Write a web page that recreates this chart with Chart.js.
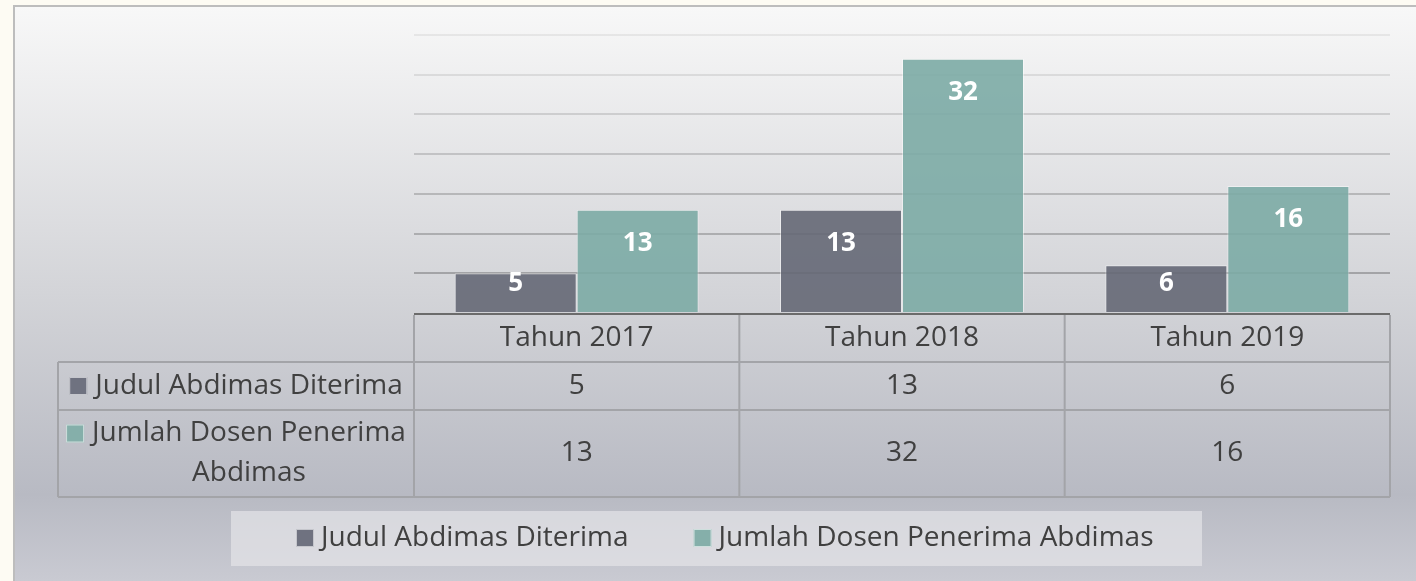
<!DOCTYPE html>
<html lang="id">
<head>
<meta charset="UTF-8">
<title>Abdimas</title>
<script src="https://cdn.jsdelivr.net/npm/chart.js"></script>
<style>
  html, body { margin: 0; padding: 0; background: #fdfbf3; }
  #wrap { width: 1416px; height: 581px; }
</style>
</head>
<body>
<div id="wrap"><canvas id="myChart" width="1416" height="581"></canvas></div>
<script>
// data
const kategori = ['Tahun 2017', 'Tahun 2018', 'Tahun 2019'];
const seriNama = ['Judul Abdimas Diterima', 'Jumlah Dosen Penerima Abdimas'];
const judulDiterima = [5, 13, 6];
const dosenPenerima = [13, 32, 16];
const warna = ['rgba(101,104,117,0.9)', 'rgba(124,171,165,0.9)'];
const warnaKotak = ['#6f7280', '#85afaa'];

const FONT = '"Open Sans", "DejaVu Sans", sans-serif';
const TEKS = '#404040';

// latar belakang + bingkai
const latar = {
  id: 'latar',
  beforeDraw(chart) {
    const c = chart.ctx, W = chart.width, H = chart.height;
    c.save();
    c.fillStyle = '#fdfbf3';
    c.fillRect(0, 0, W, H);
    const g = c.createLinearGradient(0, 5, 0, H);
    g.addColorStop(0, '#f8f8f8');
    g.addColorStop(0.5, '#d3d4d8');
    g.addColorStop(0.85, '#b8bac3');
    g.addColorStop(1, '#c9cad2');
    c.fillStyle = g;
    c.fillRect(13, 5, W - 13, H - 5);
    c.strokeStyle = '#bdbdbd';
    c.lineWidth = 2;
    c.beginPath();
    c.moveTo(14, H); c.lineTo(14, 6); c.lineTo(W, 6);
    c.stroke();
    c.restore();
  }
};

function kotak(c, x, y, s, col) {
  c.fillStyle = col;
  c.fillRect(x, y, s, s);
  c.strokeStyle = 'rgba(255,255,255,0.6)';
  c.lineWidth = 1;
  c.strokeRect(x + 0.5, y + 0.5, s - 1, s - 1);
}

// label angka di dalam batang, tabel data, legenda
const tabel = {
  id: 'tabel',
  afterDatasetsDraw(chart) {
    const c = chart.ctx;
    const xs = chart.scales.x;
    const area = chart.chartArea;
    c.save();

    // label angka (posisi ujung dalam, batang pendek ditahan dari dasar)
    c.fillStyle = '#ffffff';
    c.font = 'bold 26px ' + FONT;
    c.textAlign = 'center';
    c.textBaseline = 'middle';
    chart.data.datasets.forEach((ds, di) => {
      chart.getDatasetMeta(di).data.forEach((bar, i) => {
        const y = Math.min(bar.y + 34, bar.base - 28);
        c.fillText(String(ds.data[i]), bar.x, y);
      });
    });

    // garis sumbu
    c.strokeStyle = '#6b6b6b';
    c.lineWidth = 2;
    c.beginPath();
    c.moveTo(area.left, area.bottom + 1);
    c.lineTo(area.right, area.bottom + 1);
    c.stroke();

    // tabel data
    const lebar = (xs.getPixelForValue(1) - xs.getPixelForValue(0));
    const kiri = 58;
    const y0 = area.bottom + 2, y1 = 362, y2 = 410, y3 = 497;
    c.strokeStyle = '#a3a4a8';
    c.lineWidth = 2;
    c.beginPath();
    c.moveTo(kiri, y1); c.lineTo(area.right, y1);
    c.moveTo(kiri, y2); c.lineTo(area.right, y2);
    c.moveTo(kiri, y3); c.lineTo(area.right, y3);
    c.moveTo(kiri, y1); c.lineTo(kiri, y3);
    for (let i = 0; i <= kategori.length; i++) {
      const x = xs.getPixelForValue(i) - lebar / 2;
      c.moveTo(x, y0); c.lineTo(x, y3);
    }
    c.stroke();

    c.fillStyle = TEKS;
    c.font = '28px ' + FONT;
    c.textAlign = 'center';
    c.textBaseline = 'middle';
    kategori.forEach((k, i) => {
      const x = xs.getPixelForValue(i);
      c.fillText(k, x, (y0 + y1) / 2);
      c.fillText(String(judulDiterima[i]), x, (y1 + y2) / 2);
      c.fillText(String(dosenPenerima[i]), x, (y2 + y3) / 2);
    });

    // kolom kiri
    const tengahKiri = (kiri + area.left) / 2;
    c.textAlign = 'left';
    let w = c.measureText(seriNama[0]).width;
    let sx = tengahKiri - (w + 26) / 2;
    kotak(c, sx, (y1 + y2) / 2 - 9, 18, warnaKotak[0]);
    c.fillStyle = TEKS;
    c.fillText(seriNama[0], sx + 26, (y1 + y2) / 2);

    const baris1 = 'Jumlah Dosen Penerima', baris2 = 'Abdimas';
    w = c.measureText(baris1).width;
    sx = tengahKiri - (w + 26) / 2;
    const ym = (y2 + y3) / 2;
    kotak(c, sx, ym - 20 - 9, 18, warnaKotak[1]);
    c.fillStyle = TEKS;
    c.fillText(baris1, sx + 26, ym - 20);
    c.textAlign = 'center';
    c.fillText(baris2, sx + 26 + w / 2, ym + 20);

    // legenda
    c.fillStyle = 'rgba(225,226,229,0.75)';
    c.fillRect(231, 511, 971, 55);
    c.textAlign = 'left';
    const ly = 538;
    let lx = 296;
    seriNama.forEach((n, i) => {
      kotak(c, lx, ly - 9, 18, warnaKotak[i]);
      c.fillStyle = TEKS;
      c.fillText(n, lx + 25, ly);
      lx += 25 + c.measureText(n).width + 65;
    });

    c.restore();
  }
};

const ctx = document.getElementById('myChart');
const chart = new Chart(ctx, {
  type: 'bar',
  data: {
    labels: kategori,
    datasets: [{
      label: seriNama[0],
      data: judulDiterima,
      backgroundColor: warna[0],
      borderColor: 'rgba(255,255,255,0.45)',
      borderWidth: 1
    }, {
      label: seriNama[1],
      data: dosenPenerima,
      backgroundColor: warna[1],
      borderColor: 'rgba(255,255,255,0.45)',
      borderWidth: 1
    }]
  },
  options: {
    responsive: false,
    animation: false,
    layout: { padding: { left: 414, right: 26, top: 35, bottom: 268 } },
    datasets: { bar: { categoryPercentage: 0.75, barPercentage: 1.0 } },
    scales: {
      x: { display: false },
      y: {
        min: 0,
        max: 35,
        ticks: { display: false, stepSize: 5 },
        border: { display: false },
        grid: {
          drawTicks: false,
          lineWidth: 2,
          color: (c) => {
            const v = c.tick ? c.tick.value : 0;
            if (v === 0) return 'rgba(0,0,0,0)';
            const a = 0.08 + (35 - v) / 35 * 0.32;
            return 'rgba(70,70,70,' + a.toFixed(3) + ')';
          }
        }
      }
    },
    plugins: {
      legend: { display: false },
      tooltip: { enabled: false }
    }
  },
  plugins: [latar, tabel]
});
</script>
</body>
</html>
